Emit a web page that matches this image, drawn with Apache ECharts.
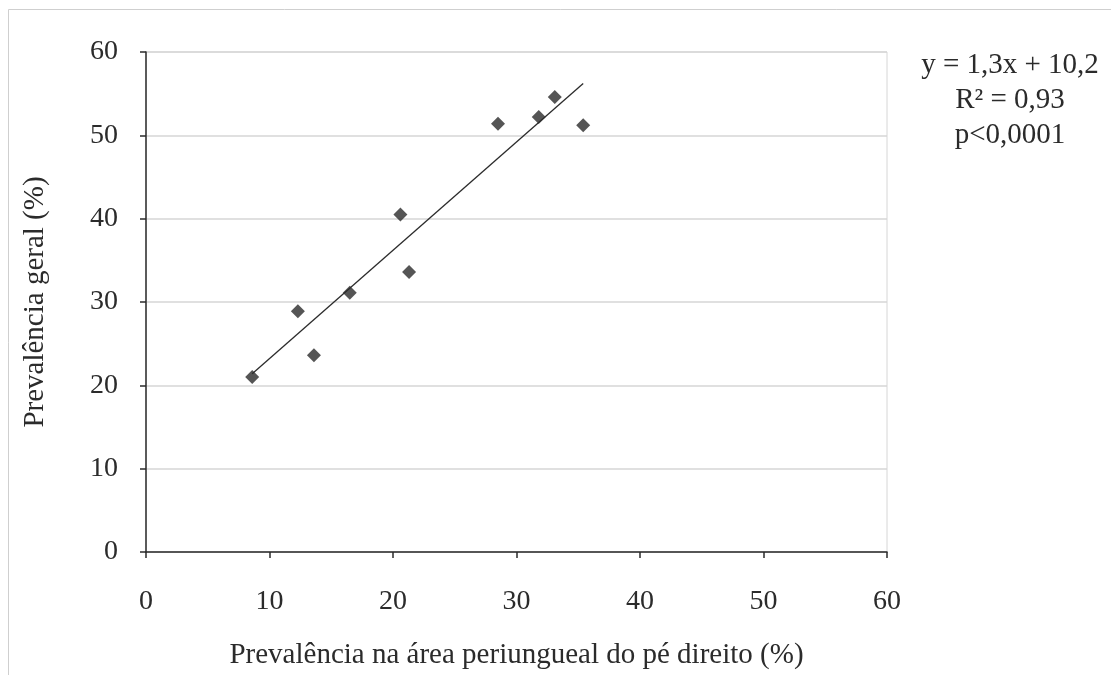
<!DOCTYPE html>
<html>
<head>
<meta charset="utf-8">
<script src="https://cdn.jsdelivr.net/npm/echarts@6/dist/echarts.min.js"></script>
<style>
  html, body { margin: 0; padding: 0; background: #fff; }
  #chart { width: 1111px; height: 675px; }
</style>
</head>
<body>
<div id="chart"></div>
<script>
// Prevalence on the right-foot periungual area (x) vs overall prevalence (y), in %
const periungualX = [8.6, 12.3, 13.6, 16.5, 20.6, 21.3, 28.5, 31.8, 33.1, 35.4];
const overallY    = [21.0, 28.9, 23.6, 31.1, 40.5, 33.6, 51.4, 52.2, 54.6, 51.2];

// Fitted linear regression, as reported
const slope = 1.3;
const intercept = 10.2;
const fitLabels = ['y = 1,3x + 10,2', 'R² = 0,93', 'p<0,0001'];

const axisTicks = [0, 10, 20, 30, 40, 50, 60];
const xTitle = 'Prevalência na área periungueal do pé direito (%)';
const yTitle = 'Prevalência geral (%)';

const points = periungualX.map((x, i) => [x, overallY[i]]);
const xMin = Math.min(...periungualX);
const xMax = Math.max(...periungualX);
const fitLine = [[xMin, slope * xMin + intercept], [xMax, slope * xMax + intercept]];

const serif = '"Liberation Serif", "DejaVu Serif", serif';
const ink = '#2b2b2b';

const chart = echarts.init(document.getElementById('chart'), null, { renderer: 'canvas' });
chart.setOption({
  backgroundColor: '#fff',
  animation: false,
  grid: {
    left: 146, right: 224, top: 52, bottom: 122,
    show: true, borderColor: '#d6d6d6', borderWidth: 1, backgroundColor: 'transparent'
  },
  xAxis: {
    type: 'value', min: axisTicks[0], max: axisTicks[axisTicks.length - 1], interval: 10,
    name: xTitle, nameLocation: 'middle', nameGap: 89,
    nameTextStyle: { fontFamily: serif, fontSize: 29, color: ink },
    axisLine: { show: true, onZero: false, lineStyle: { color: ink, width: 1.5 } },
    axisTick: { show: true, length: 6, lineStyle: { color: ink, width: 1.5 } },
    axisLabel: { margin: 36, fontFamily: serif, fontSize: 28, color: ink },
    splitLine: { show: false }
  },
  yAxis: {
    type: 'value', min: axisTicks[0], max: axisTicks[axisTicks.length - 1], interval: 10,
    name: yTitle, nameLocation: 'middle', nameGap: 96, nameRotate: 90,
    nameTextStyle: { fontFamily: serif, fontSize: 29, color: ink },
    axisLine: { show: true, onZero: false, lineStyle: { color: ink, width: 1.5 } },
    axisTick: { show: true, length: 6, lineStyle: { color: ink, width: 1.5 } },
    axisLabel: { margin: 28, fontFamily: serif, fontSize: 28, color: ink },
    splitLine: { show: true, lineStyle: { color: '#d6d6d6', width: 1.5 } }
  },
  graphic: [
    {
      type: 'rect', silent: true,
      shape: { x: 8.5, y: 9.5, width: 1200, height: 800 },
      style: { fill: 'none', stroke: '#cfcfcf', lineWidth: 1 }
    },
    {
      type: 'text', silent: true, x: 1010, y: 48,
      style: {
        text: fitLabels.join('\n'), align: 'center', verticalAlign: 'top',
        font: '29px ' + serif, fill: ink, lineHeight: 35
      }
    }
  ],
  series: [
    {
      type: 'line', data: fitLine, showSymbol: false, symbol: 'none',
      lineStyle: { color: ink, width: 1.3 }, z: 2, silent: true
    },
    {
      type: 'scatter', data: points, symbol: 'diamond', symbolSize: 14,
      itemStyle: { color: '#2a2a2a' }, z: 3
    }
  ]
});
</script>
</body>
</html>
